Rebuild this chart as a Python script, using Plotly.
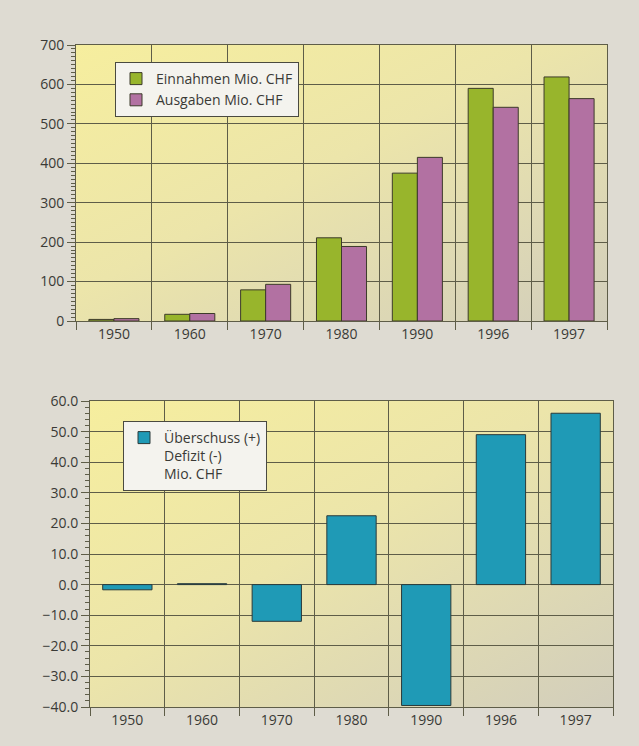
import plotly.graph_objects as go
from urllib.parse import quote

years = ["1950", "1960", "1970", "1980", "1990", "1996", "1997"]
einnahmen = [4, 17, 79, 211, 375, 590, 619]
ausgaben = [6, 19, 93, 189, 415, 542, 564]
saldo = [-1.7, 0.3, -12.0, 22.5, -39.5, 49.0, 56.0]

top_range = [0, 700]
top_step = 100
bot_range = [-40, 60]
bot_step = 10

W, H = 639, 746
FONT = "Open Sans"
TXT = "#3a3a36"
GRID = "#5e5d48"

def px_dom(a, b, total):
    return [a / total, b / total]

def py_dom(top, bottom):
    return [1 - bottom / H, 1 - top / H]

svg = ('<svg xmlns="http://www.w3.org/2000/svg" width="100" height="100" preserveAspectRatio="none">'
       '<defs><linearGradient id="g" x1="0" y1="0" x2="1" y2="1">'
       '<stop offset="0" stop-color="#f6ee9e"/>'
       '<stop offset="0.45" stop-color="#ece5aa"/>'
       '<stop offset="1" stop-color="#d2cebc"/>'
       '</linearGradient></defs>'
       '<rect width="100" height="100" fill="url(#g)"/></svg>')
grad_src = "data:image/svg+xml;charset=utf-8," + quote(svg)

fig = go.Figure()

fig.add_trace(go.Bar(x=years, y=einnahmen, name="Einnahmen Mio. CHF",
                     marker=dict(color="#98b52c", line=dict(color="#3d3b2a", width=1)),
                     xaxis="x", yaxis="y", legend="legend"))
fig.add_trace(go.Bar(x=years, y=ausgaben, name="Ausgaben Mio. CHF",
                     marker=dict(color="#b271a2", line=dict(color="#3d3b2a", width=1)),
                     xaxis="x", yaxis="y", legend="legend"))
fig.add_trace(go.Bar(x=years, y=saldo, name="Überschuss (+)<br>Defizit (-)<br>Mio. CHF",
                     marker=dict(color="#1f9ab6", line=dict(color="#2b3a3a", width=1)),
                     xaxis="x2", yaxis="y2", legend="legend2", width=0.66))

xcommon = dict(type="category", tickson="boundaries", showgrid=True, gridcolor=GRID, gridwidth=1,
               ticks="outside", ticklen=8, tickcolor=GRID, showline=True, linecolor=GRID,
               linewidth=1, mirror=True, tickfont=dict(family=FONT, size=14, color=TXT),
               automargin=False, fixedrange=True)
ycommon = dict(showgrid=True, gridcolor=GRID, gridwidth=1, ticks="outside", ticklen=8,
               tickcolor=GRID, showline=True, linecolor=GRID, linewidth=1, mirror=True,
               zeroline=False, tickfont=dict(family=FONT, size=14, color=TXT),
               automargin=False, fixedrange=True, tickmode="linear")

fig.update_layout(
    width=W, height=H,
    margin=dict(l=0, r=0, t=0, b=0),
    paper_bgcolor="#dedbd2",
    plot_bgcolor="rgba(0,0,0,0)",
    barmode="group",
    bargap=0.34,
    bargroupgap=0,
    font=dict(family=FONT, size=13, color=TXT),
    xaxis=dict(**xcommon, domain=px_dom(76, 607, W), anchor="y"),
    yaxis=dict(**ycommon, domain=py_dom(45, 321), range=top_range, tick0=0, dtick=top_step,
               minor=dict(ticks="outside", ticklen=4, dtick=10, tickcolor=GRID, showgrid=False),
               anchor="x"),
    xaxis2=dict(**xcommon, domain=px_dom(90, 613, W), anchor="y2"),
    yaxis2=dict(**ycommon, domain=py_dom(401, 707), range=bot_range, tick0=0, dtick=bot_step,
                tickformat=".1f",
                minor=dict(ticks="outside", ticklen=4, dtick=2, tickcolor=GRID, showgrid=False),
                anchor="x2"),
    legend=dict(x=115 / W, y=1 - 62 / H, xanchor="left", yanchor="top",
                bgcolor="#f4f3ee", bordercolor="#4a4a40", borderwidth=1,
                font=dict(family=FONT, size=14, color=TXT), tracegroupgap=2,
                itemwidth=30),
    legend2=dict(x=123 / W, y=1 - 421 / H, xanchor="left", yanchor="top",
                 bgcolor="#f4f3ee", bordercolor="#4a4a40", borderwidth=1,
                 font=dict(family=FONT, size=14, color=TXT), valign="top",
                 itemwidth=30),
    images=[
        dict(source=grad_src, xref="x domain", yref="y domain", x=0, y=1, sizex=1, sizey=1,
             xanchor="left", yanchor="top", sizing="stretch", layer="below"),
        dict(source=grad_src, xref="x2 domain", yref="y2 domain", x=0, y=1, sizex=1, sizey=1,
             xanchor="left", yanchor="top", sizing="stretch", layer="below"),
    ],
)

fig.write_html("out.html", config={"displayModeBar": False},
               post_script="document.body.style.margin='0';document.body.style.background='#dedbd2';")
